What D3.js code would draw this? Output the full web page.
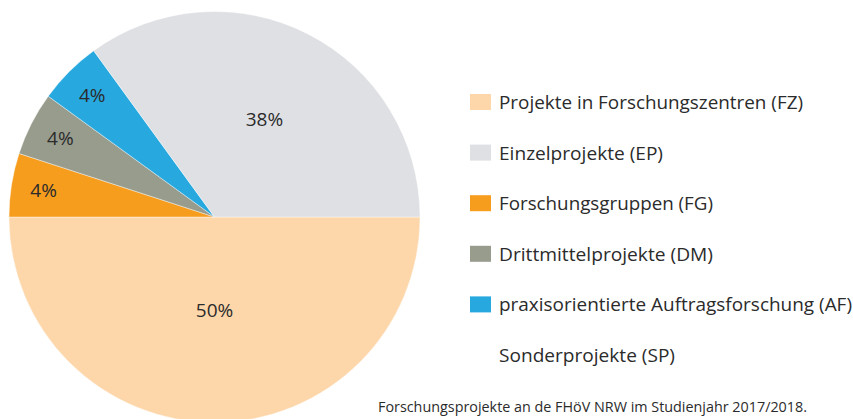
<!DOCTYPE html>
<html>
<head>
<meta charset="utf-8">
<script src="https://cdn.jsdelivr.net/npm/d3@7"></script>
<style>
    html, body { margin: 0; padding: 0; background: #fff; }
    svg { display: block; }
    text { font-family: "Open Sans", "Noto Sans", sans-serif; fill: #2b2b2b; }
</style>
</head>
<body>
<div id="chart"></div>
<script>
(function () {
    "use strict";

    // --- Data (slice order clockwise from 3 o'clock) ---
    var sliceKeys   = ["FZ", "FG", "DM", "AF", "EP"];
    var sliceValues = [50, 5, 5, 5, 35];          // drawn share
    var sliceLabels = ["50%", "4%", "4%", "4%", "38%"];
    var sliceColors = ["#fdd6aa", "#f69d1e", "#979c8d", "#27a9e0", "#dfe0e4"];

    // --- Legend ---
    var legendKeys  = ["FZ", "EP", "FG", "DM", "AF", "SP"];
    var legendNames = [
        "Projekte in Forschungszentren (FZ)",
        "Einzelprojekte (EP)",
        "Forschungsgruppen (FG)",
        "Drittmittelprojekte (DM)",
        "praxisorientierte Auftragsforschung (AF)",
        "Sonderprojekte (SP)"
    ];
    var legendWidths = [304, 164, 214, 214, 353, 176];

    var caption = "Forschungsprojekte an de FHöV NRW im Studienjahr 2017/2018.";

    var W = 853, H = 419;
    var cx = 214.5, cy = 217, R = 205.5;

    var svg = d3.select("#chart").append("svg")
        .attr("width", W)
        .attr("height", H);

    var colorOf = d3.scaleOrdinal().domain(sliceKeys).range(sliceColors);

    var pie = d3.pie()
        .sort(null)
        .value(function (d) { return d.value; })
        .startAngle(Math.PI / 2)
        .endAngle(Math.PI / 2 + 2 * Math.PI);

    var rows = sliceKeys.map(function (k, i) {
        return { key: k, value: sliceValues[i], label: sliceLabels[i] };
    });

    var arc = d3.arc().innerRadius(0).outerRadius(R);

    var g = svg.append("g").attr("transform", "translate(" + cx + "," + cy + ")");

    var arcs = pie(rows);

    g.selectAll("path.slice")
        .data(arcs)
        .enter().append("path")
        .attr("class", "slice")
        .attr("d", arc)
        .attr("fill", function (d) { return colorOf(d.data.key); })
        .attr("stroke", "#fff")
        .attr("stroke-width", 0.4);

    // small slices get labels near the rim, big ones further in
    function labelArc(d) {
        var r = d.data.value < 10 ? 173 : (d.data.value >= 50 ? 93 : 110);
        return d3.arc().innerRadius(r).outerRadius(r);
    }

    g.selectAll("text.pct")
        .data(arcs)
        .enter().append("text")
        .attr("class", "pct")
        .attr("transform", function (d) {
            var c = labelArc(d).centroid(d);
            return "translate(" + c[0] + "," + c[1] + ")";
        })
        .attr("text-anchor", "middle")
        .attr("dy", "0.36em")
        .style("font-size", "19px")
        .text(function (d) { return d.data.label; });

    // --- Legend ---
    var rowY = d3.scalePoint().domain(legendKeys).range([109, 362]);

    var lg = svg.append("g");
    var item = lg.selectAll("g.item")
        .data(legendKeys)
        .enter().append("g")
        .attr("class", "item")
        .attr("transform", function (k) { return "translate(0," + rowY(k) + ")"; });

    item.filter(function (k) { return sliceKeys.indexOf(k) >= 0; })
        .append("rect")
        .attr("x", 470)
        .attr("y", -15)
        .attr("width", 21)
        .attr("height", 16)
        .attr("fill", function (k) { return colorOf(k); });

    item.append("text")
        .attr("x", 499)
        .attr("y", 0)
        .style("font-size", "19px")
        .attr("textLength", function (k, i) { return legendWidths[i]; })
        .attr("lengthAdjust", "spacingAndGlyphs")
        .text(function (k, i) { return legendNames[i]; });

    svg.append("text")
        .attr("x", 378)
        .attr("y", 412)
        .style("font-size", "14px")
        .attr("textLength", 429)
        .attr("lengthAdjust", "spacingAndGlyphs")
        .text(caption);
})();
</script>
</body>
</html>
